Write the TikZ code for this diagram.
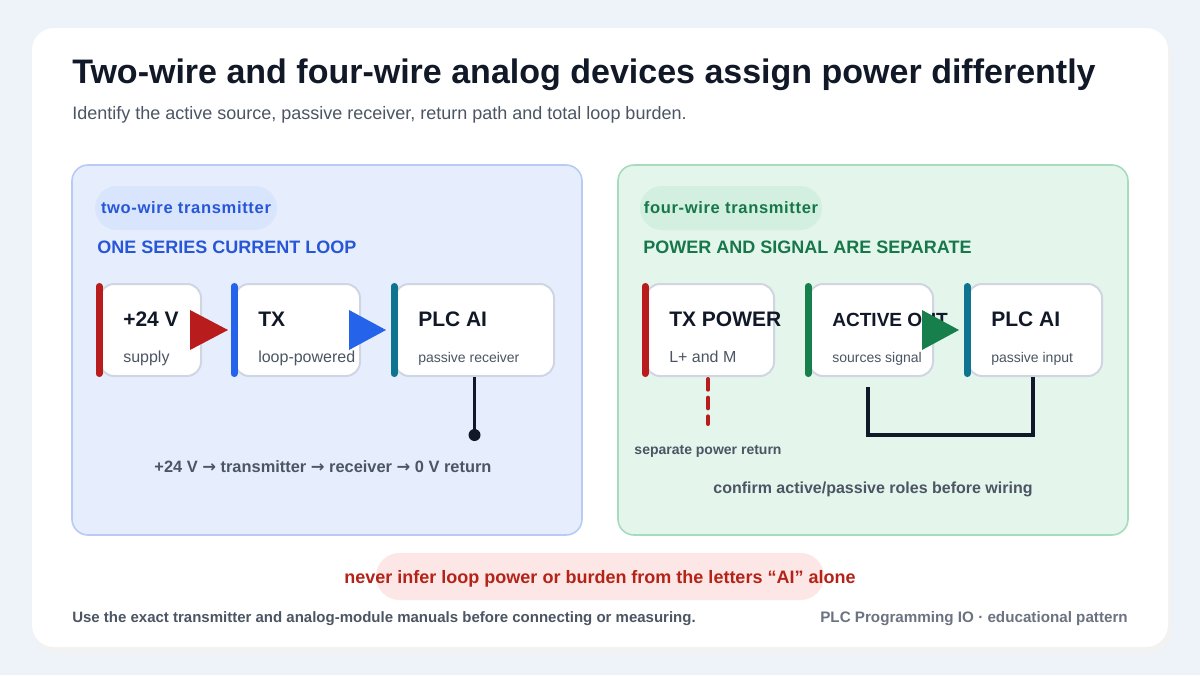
\documentclass[tikz,border=0pt]{standalone}
\usepackage{fontspec}
\setmainfont{Liberation Sans}
\newfontfamily\arrowfont{DejaVu Sans}
\usepackage{xcolor}
\usetikzlibrary{positioning,calc}

\definecolor{pagebg}{HTML}{EEF2F9}
\definecolor{ink}{HTML}{111827}
\definecolor{muted}{HTML}{4B5563}
\definecolor{soft}{HTML}{6B7280}
\definecolor{edge}{HTML}{D0D6E1}
\definecolor{bluefill}{HTML}{E6EEFD}
\definecolor{blueline}{HTML}{B8CAF5}
\definecolor{bluetag}{HTML}{D9E4FD}
\definecolor{bluetext}{HTML}{2757D8}
\definecolor{greenfill}{HTML}{E4F5EC}
\definecolor{greenline}{HTML}{A7DBBE}
\definecolor{greentag}{HTML}{D2EFDF}
\definecolor{greentext}{HTML}{17774A}
\definecolor{barred}{HTML}{B91C1C}
\definecolor{barblue}{HTML}{2563EB}
\definecolor{barteal}{HTML}{0E7490}
\definecolor{bargreen}{HTML}{177F4B}
\definecolor{warnfill}{HTML}{FDE6E6}
\definecolor{warntext}{HTML}{B42318}

\newcommand\fsz[1]{\fontsize{#1}{#1}\selectfont}
\newcommand\ra{{\arrowfont\char"2192}}

\begin{document}
\begin{tikzpicture}[
  x=0.75pt, y=-0.75pt,
  panel/.style={
    draw=#1line, fill=#1fill, rounded corners=12pt, line width=1.2pt
  },
  tag/.style={
    fill=#1tag, text=#1text, rounded corners=16.5pt,
    minimum width=136.5pt, minimum height=33pt, inner sep=0pt,
    font=\fsz{12.4pt}\bfseries\addfontfeature{LetterSpace=4}
  },
  heading/.style={
    anchor=base west, inner sep=0pt, text=#1text, font=\fsz{13.5pt}\bfseries
  },
  dev/.style={
    draw=edge, fill=white, rounded corners=10.5pt, line width=1.5pt,
    minimum height=69pt, inner sep=0pt
  },
  bar/.style={
    draw=#1, line width=5.25pt, line cap=round, shorten <=2.6pt, shorten >=2.6pt
  },
  devtitle/.style={
    anchor=base west, inner sep=0pt, text=ink, font=\fsz{15.75pt}\bfseries
  },
  devsub/.style={
    anchor=base west, inner sep=0pt, text=muted, font=\fsz{12pt}
  },
  devsmall/.style={
    anchor=base west, inner sep=0pt, text=muted, font=\fsz{10.5pt}
  },
  wire/.style={
    draw=ink, line width=2.6pt
  },
  note/.style={
    anchor=base, inner sep=0pt, text=muted, font=\fsz{12pt}\bfseries
  }
]

% Page and card
\fill[pagebg] (0,0) rectangle (1200,675);
\fill[black!5, rounded corners=18pt] (34,34) rectangle (1172,654);
\fill[white, rounded corners=16.5pt] (32,28) rectangle (1168,647);

% Heading
\node[anchor=base west, inner sep=0pt, text=ink, font=\fsz{25.5pt}\bfseries]
  (title) at (72,83) {Two-wire and four-wire analog devices assign power differently};
\node[anchor=base west, inner sep=0pt, text=muted, font=\fsz{13.5pt}]
  (subtitle) at (72,119) {Identify the active source, passive receiver, return path and total loop burden.};

% Panels
\draw[panel=blue]  (72,165)  rectangle (582,535);
\draw[panel=green] (618,165) rectangle (1128,535);

\node[tag=blue]  (twotag)  at (186,208) {two-wire transmitter};
\node[tag=green] (fourtag) at (731,208) {four-wire transmitter};
\node[heading=blue]  (twohead)  at (97,253)  {ONE SERIES CURRENT LOOP};
\node[heading=green] (fourhead) at (643,253) {POWER AND SIGNAL ARE SEPARATE};

% Two-wire loop
\node[dev, minimum width=75.75pt] (sup) at (150.5,330) {};
\node[dev, minimum width=93.75pt] (tx)  at (297.5,330) {};
\node[dev, minimum width=119.25pt] (ai) at (474.5,330) {};
\draw[bar=barred]  (sup.north west) -- (sup.south west);
\draw[bar=barblue] (tx.north west)  -- (tx.south west);
\draw[bar=barteal] (ai.north west)  -- (ai.south west);

\node[devtitle] (supt) at ([shift={(24,-4)}]sup.west) {+24 V};
\node[devsub]   (sups) at ([shift={(24,32)}]sup.west) {supply};
\node[devtitle] (txt)  at ([shift={(24,-4)}]tx.west)  {TX};
\node[devsub]   (txs)  at ([shift={(24,32)}]tx.west)  {loop-powered};
\node[devtitle] (ait)  at ([shift={(24,-4)}]ai.west)  {PLC AI};
\node[devsmall] (ais)  at ([shift={(24,32)}]ai.west)  {passive receiver};

\fill[barred]  ([shift={(-12,-20)}]sup.east) -- ([shift={(-6,0)}]tx.west)
  -- ([shift={(-12,20)}]sup.east) -- cycle;
\fill[barblue] ([shift={(-12,-20)}]tx.east) -- ([shift={(-8,0)}]ai.west)
  -- ([shift={(-12,20)}]tx.east) -- cycle;

\coordinate (ret) at ([shift={(0,58)}]ai.south);
\draw[wire] (ai.south) -- (ret);
\fill[ink] (ret) circle (4.5pt);

\node[note, font=\fsz{12.3pt}\bfseries] (twonote) at (323,472) {+24 V \ra{} transmitter \ra{} receiver \ra{} 0 V return};

% Four-wire loop
\node[dev, minimum width=96pt]    (pwr) at (710,330)  {};
\node[dev, minimum width=93pt]    (ao)  at (871,330)  {};
\node[dev, minimum width=100.5pt] (ai2) at (1035,330) {};
\draw[bar=barred]   (pwr.north west) -- (pwr.south west);
\draw[bar=bargreen] (ao.north west)  -- (ao.south west);
\draw[bar=barteal]  (ai2.north west) -- (ai2.south west);

\node[devtitle] (pwrt) at ([shift={(24,-4)}]pwr.west) {TX POWER};
\node[devsub]   (pwrs) at ([shift={(24,32)}]pwr.west) {L+ and M};
\node[devtitle, font=\fsz{14.3pt}\bfseries] (aot) at ([shift={(24,-4)}]ao.west) {ACTIVE OUT};
\node[devsmall] (aos)  at ([shift={(24,32)}]ao.west)  {sources signal};
\node[devtitle] (ai2t) at ([shift={(24,-4)}]ai2.west) {PLC AI};
\node[devsmall] (ai2s) at ([shift={(24,32)}]ai2.west) {passive input};

\fill[bargreen] ([shift={(-12,-20)}]ao.east) -- ([shift={(-8,0)}]ai2.west)
  -- ([shift={(-12,20)}]ao.east) -- cycle;

\coordinate (pret) at ([shift={(-2,47)}]pwr.south);
\draw[barred, line width=3pt, line cap=round, dash pattern=on 8pt off 6pt]
  ([shift={(-2,2)}]pwr.south) -- (pret);
\node[note, font=\fsz{10.5pt}\bfseries] (pnote) at (708,454) {separate power return};

\coordinate (aotap) at ([shift={(-3,10)}]ao.south);
\draw[wire, line join=miter] (aotap) |- ([shift={(-2,58)}]ai2.south) -- ([shift={(-2,0)}]ai2.south);

\node[note] (fournote) at (873,493) {confirm active/passive roles before wiring};

% Warning and footer
\node[fill=warnfill, rounded corners=17.6pt, minimum width=336pt, minimum height=35.25pt]
  (warnpill) at (600,576.5) {};
\node[anchor=base, inner sep=0pt, text=warntext, font=\fsz{13.5pt}\bfseries]
  (warn) at (600,583) {never infer loop power or burden from the letters “AI” alone};

\node[anchor=base west, inner sep=0pt, text=muted, font=\fsz{11.25pt}\bfseries]
  (foot) at (72,622) {Use the exact transmitter and analog-module manuals before connecting or measuring.};
\node[anchor=base east, inner sep=0pt, text=soft, font=\fsz{11.4pt}\bfseries]
  (credit) at (1128,622) {PLC Programming IO · educational pattern};

\end{tikzpicture}
\end{document}
